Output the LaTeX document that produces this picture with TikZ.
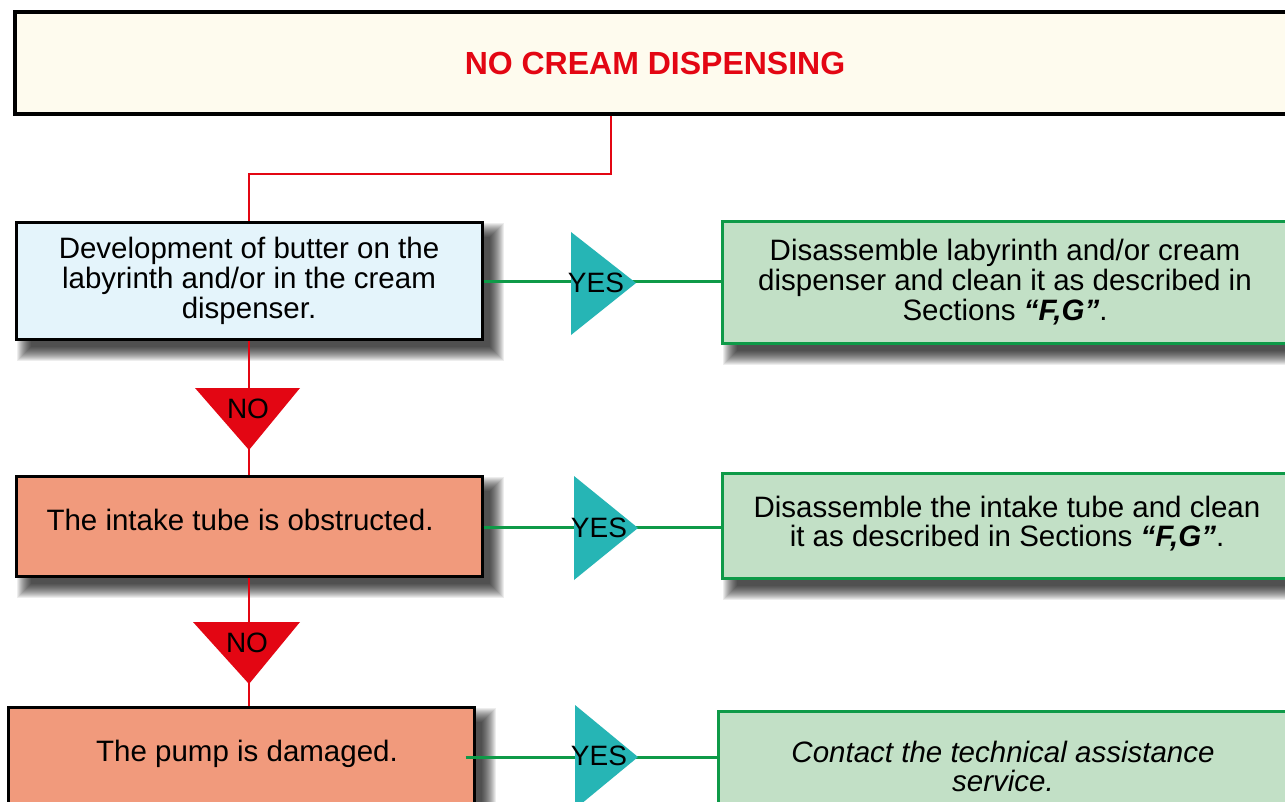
\documentclass[tikz,border=0pt]{standalone}
\usepackage{fontspec}
\setmainfont{Liberation Sans}
\definecolor{titlebg}{HTML}{FEFBEE}
\definecolor{bluebg}{HTML}{E4F4FB}
\definecolor{salmon}{HTML}{F19A7C}
\definecolor{greenbg}{HTML}{C2E0C6}
\definecolor{greenln}{HTML}{0E9A48}
\definecolor{redc}{HTML}{E30613}
\definecolor{tealc}{HTML}{26B5B5}
\pgfdeclarelayer{paper}
\pgfdeclarelayer{bg}
\pgfsetlayers{paper,bg,main}
\tikzset{
  qbox/.style={draw=black, line width=3pt, inner sep=0pt, align=center,
    font=\fontsize{29.5}{30}\selectfont},
  abox/.style={draw=greenln, line width=3pt, fill=greenbg, inner sep=0pt, align=center,
    font=\fontsize{29.5}{30}\selectfont},
  redline/.style={draw=redc, line width=2.5pt},
  greenline/.style={draw=greenln, line width=3pt},
  lbl/.style={inner sep=0pt, font=\fontsize{28}{28}\selectfont},
  shadlayer/.style={fill=black, opacity=0.07},
}
\newcommand\myboxshadow[1]{%
  \foreach \i in {0,...,14}{%
    \pgfmathsetmacro\a{16-\i}%
    \pgfmathsetmacro\b{6+\i}%
    \fill[shadlayer] ([shift={(\a,\a)}]#1.north west) rectangle ([shift={(\b,\b)}]#1.south east);
  }}
\begin{document}
\begin{tikzpicture}[x=1pt,y=-1pt]
\useasboundingbox (0,0) rectangle (1285,802);
\clip (0,0) rectangle (1285,802);
\begin{pgfonlayer}{paper}
  \fill[white] (0,0) rectangle (1285,802);
\end{pgfonlayer}

% title
\node[draw=black, line width=4pt, fill=titlebg, minimum width=1280, minimum height=102, inner sep=0pt,
  font=\fontsize{32}{33}\selectfont\bfseries, text=redc] (top) at (655,63) {NO CREAM DISPENSING};

% question boxes
\node[qbox, fill=bluebg, minimum width=466, minimum height=116] (b1) at (249,281)
  {Development of butter on the\\labyrinth and/or in the cream\\dispenser.};
\node[qbox, fill=salmon, minimum width=466, minimum height=100] (b2) at (249,526)
  {\raisebox{12pt}{The intake tube is obstructed.\hspace*{18pt}}};
\node[qbox, fill=salmon, minimum width=466, minimum height=120] (b3) at (241,767)
  {\raisebox{32pt}{\hspace*{12pt}The pump is damaged.}};

% answer boxes
\node[abox, minimum width=566, minimum height=121] (g1) at (1005,282.5)
  {Disassemble labyrinth and/or cream\\dispenser and clean it as described in\\Sections \textbf{\itshape “F,G”}.};
\node[abox, minimum width=570, minimum height=105] (g2) at (1007,525.5)
  {\raisebox{8pt}{\begin{tabular}{@{}c@{}}Disassemble the intake tube and clean\\[-1.4pt]it as described in Sections \textbf{\itshape “F,G”}.\end{tabular}}};
\node[abox, minimum width=570, minimum height=120] (g3) at (1003,771)
  {\raisebox{24pt}{\begin{tabular}{@{}c@{}}\itshape Contact the technical assistance\\[-1.4pt]\itshape service.\end{tabular}}};

% shadows
\begin{pgfonlayer}{bg}
  \myboxshadow{b1}
  \myboxshadow{b2}
  \myboxshadow{b3}
  \myboxshadow{g1}
  \myboxshadow{g2}
  \myboxshadow{g3}
\end{pgfonlayer}

% red connectors
\draw[redline] ([xshift=-44pt]top.south) -- ++(0,58) -| (b1.north);
\draw[redline] (b1.south) -- (b2.north);
\draw[redline] (b2.south) -- (b3.north -| b2.south);

% green connectors
\draw[greenline] (b1.east |- 0,282) -- (g1.west |- 0,282);
\draw[greenline] (b2.east |- 0,527) -- (g2.west |- 0,527);
\draw[greenline] ([xshift=-10pt]b3.east |- 0,757) -- (g3.west |- 0,757);

% NO triangles
\fill[redc] (195,388) -- (300,388) -- (249,450) -- cycle;
\node[lbl] (no1) at (248,409) {NO};
\fill[redc] (193,622) -- (300,622) -- (249,684) -- cycle;
\node[lbl] (no2) at (247,643) {NO};

% YES triangles
\fill[tealc] (571,232) -- (571,335) -- (636,283) -- cycle;
\node[lbl] (yes1) at (596,283) {YES};
\fill[tealc] (574,476) -- (574,580) -- (638,528) -- cycle;
\node[lbl] (yes2) at (599,528) {YES};
\fill[tealc] (575,705) -- (575,809) -- (638,757) -- cycle;
\node[lbl] (yes3) at (599,756) {YES};
\end{tikzpicture}
\end{document}
